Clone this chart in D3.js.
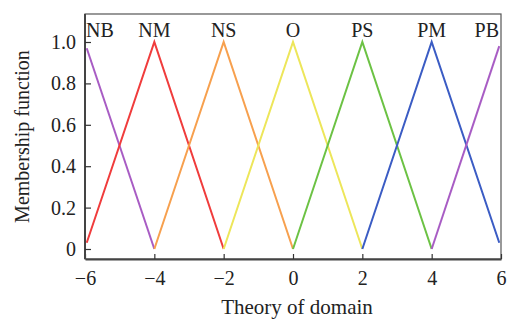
<!DOCTYPE html>
<html>
<head>
<meta charset="utf-8">
<script src="https://cdn.jsdelivr.net/npm/d3@7"></script>
<style>
  html, body { margin: 0; padding: 0; background: #fff; }
  svg { display: block; font-family: "Liberation Serif", "DejaVu Serif", serif; }
</style>
</head>
<body>
<div id="chart"></div>
<script>
// Fuzzy set names and their colours
const setNames = ["NB", "NM", "NS", "O", "PS", "PM", "PB"];
const setColors = ["#a85cc4", "#f03c3c", "#f7a04e", "#ede65a", "#6cc244", "#3b5cc4", "#a85cc4"];

// Triangle vertices (x = domain, y = membership)
const setX = [
    [-5.95, -4],
    [-5.95, -4, -2],
    [-4, -2, 0],
    [-2, 0, 2],
    [0, 2, 4],
    [2, 4, 5.95],
    [4, 5.95]
];
const setY = [
    [0.97, 0],
    [0.03, 1, 0],
    [0, 1, 0],
    [0, 1, 0],
    [0, 1, 0],
    [0, 1, 0.03],
    [0, 0.98]
];
// Label positions on the domain axis
const labelX = [-6, -4, -2, 0, 2, 4, 6];

const xTicks = [-6, -4, -2, 0, 2, 4, 6];
const yTicks = [0, 0.2, 0.4, 0.6, 0.8, 1.0];

const width = 512, height = 320;
const margin = { top: 14, right: 11, bottom: 61, left: 85 };

const svg = d3.select("#chart").append("svg")
    .attr("width", width)
    .attr("height", height);

const x = d3.scaleLinear().domain([-6, 6]).range([margin.left, width - margin.right]);
const y = d3.scaleLinear().domain([0, 1]).range([249, 42]);

const plotTop = margin.top, plotBottom = height - margin.bottom;

// Lines
const line = d3.line().x(d => x(d[0])).y(d => y(d[1]));
setNames.forEach((name, i) => {
    const pts = setX[i].map((v, j) => [v, setY[i][j]]);
    svg.append("path")
        .attr("d", line(pts))
        .attr("fill", "none")
        .attr("stroke", setColors[i])
        .attr("stroke-width", 2);
});

// Frame
svg.append("rect")
    .attr("x", x(-6)).attr("y", plotTop)
    .attr("width", x(6) - x(-6)).attr("height", plotBottom - plotTop)
    .attr("fill", "none").attr("stroke", "#555").attr("stroke-width", 1.2);

// Axes with inward ticks
const xAxis = svg.append("g")
    .attr("transform", `translate(0,${plotBottom})`)
    .call(d3.axisBottom(x).tickValues(xTicks).tickSizeInner(-5).tickSizeOuter(0)
        .tickFormat(d => d < 0 ? "\u2212" + Math.abs(d) : d));
xAxis.select(".domain").attr("stroke", "#444").attr("stroke-width", 2);
xAxis.selectAll(".tick line").attr("stroke", "#333").attr("stroke-width", 1.2);
xAxis.selectAll(".tick text").attr("y", 12).attr("dy", "0.71em")
    .attr("font-size", 20).attr("font-family", "Liberation Serif").attr("fill", "#222");

const yAxis = svg.append("g")
    .attr("transform", `translate(${x(-6)},0)`)
    .call(d3.axisLeft(y).tickValues(yTicks).tickSizeInner(-6).tickSizeOuter(0)
        .tickFormat(d => d === 0 ? "0" : d3.format(".1f")(d)));
yAxis.select(".domain").attr("stroke", "#444").attr("stroke-width", 2)
    .attr("d", `M0,${plotTop}V${plotBottom}`);
yAxis.selectAll(".tick line").attr("stroke", "#333").attr("stroke-width", 1.2);
yAxis.selectAll(".tick text").attr("x", -9)
    .attr("font-size", 20).attr("font-family", "Liberation Serif").attr("fill", "#222");

// Set labels at top
svg.selectAll(".setLabel")
    .data(setNames)
    .enter()
    .append("text")
    .attr("x", (d, i) => x(labelX[i]) + (i === 0 ? 1 : i === setNames.length - 1 ? -2 : 0))
    .attr("y", 37)
    .attr("text-anchor", (d, i) => i === 0 ? "start" : i === setNames.length - 1 ? "end" : "middle")
    .attr("font-size", 20)
    .attr("fill", "#222")
    .text(d => d);

// Axis titles
svg.append("text")
    .attr("x", 297).attr("y", 314)
    .attr("text-anchor", "middle")
    .attr("font-size", 21).attr("fill", "#222")
    .text("Theory of domain");

svg.append("text")
    .attr("transform", `translate(29,${(plotTop + plotBottom) / 2}) rotate(-90)`)
    .attr("text-anchor", "middle")
    .attr("font-size", 20).attr("fill", "#222")
    .text("Membership function");
</script>
</body>
</html>
